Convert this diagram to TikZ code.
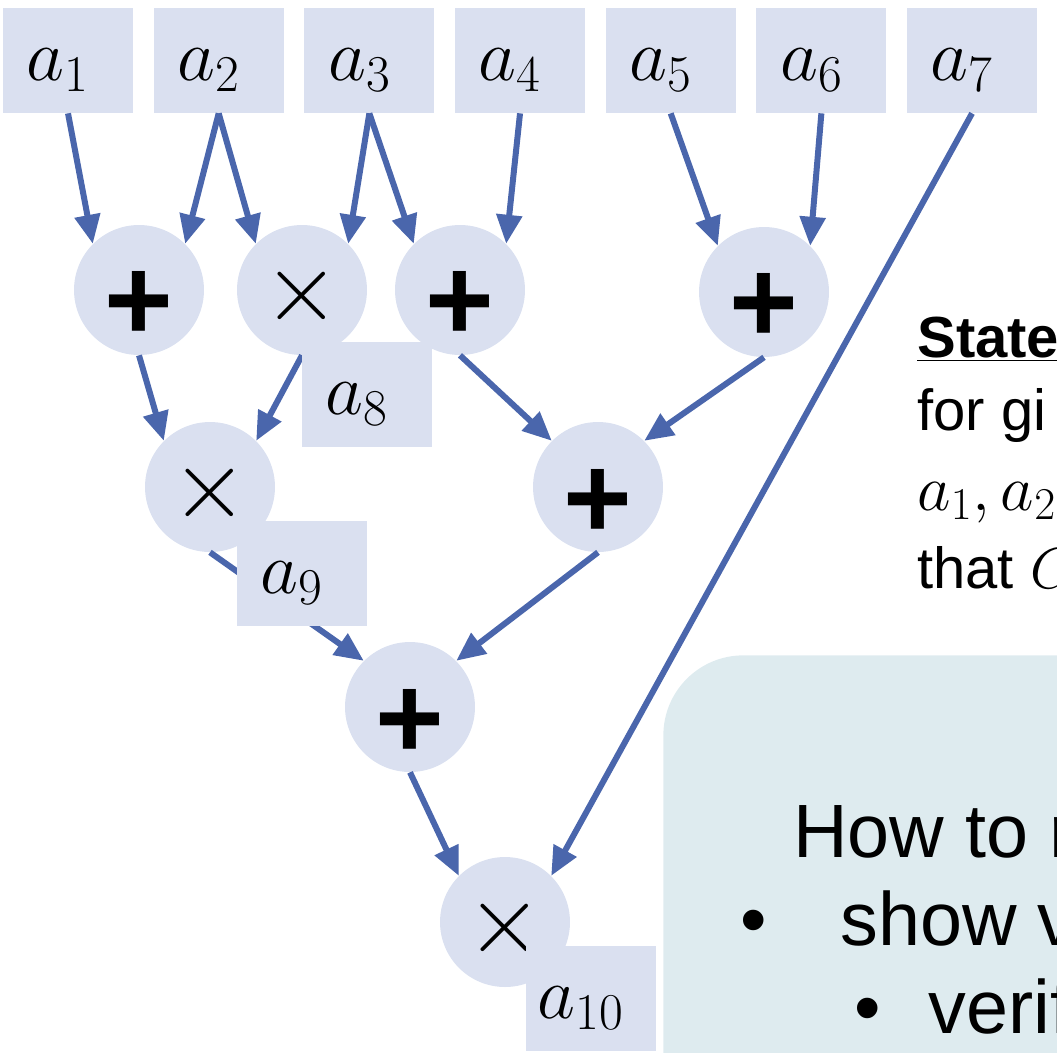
\RequirePackage{fix-cm}
\documentclass[tikz,border=0pt]{standalone}
\usepackage[no-math]{fontspec}
\setmainfont{Liberation Sans}
\usepackage{xcolor}
\usepackage{tikz}
\usetikzlibrary{positioning,arrows.meta}
\definecolor{wireblue}{HTML}{4A66AC}
\definecolor{nodetint}{HTML}{DAE0F0}
\definecolor{notetint}{HTML}{DEEBEF}
\newcommand{\avar}[1]{$a_{#1}$\kern0.4cm}
\newcommand{\opplus}{\raisebox{-1.02cm}[0pt][0pt]{\fontsize{67}{67}\selectfont\bfseries +}}
\newcommand{\optimes}{\raisebox{-0.6cm}[0pt][0pt]{\fontsize{56}{56}\selectfont$\times$}}

\begin{document}
\begin{tikzpicture}[
    x=0.02cm, y=-0.02cm,
    leaf/.style={
      fill=nodetint, minimum width=2.6cm, minimum height=2.1cm, inner sep=0pt,
      text height=0.8cm, text depth=0pt, font=\fontsize{42}{42}\selectfont
    },
    gate/.style={circle, fill=nodetint, minimum size=2.6cm, inner sep=0pt},
    wire/.style={-{Triangle[length=0.58cm, width=0.5cm]}, line width=0.12cm, wireblue},
    panel/.style={
      fill=notetint, rounded corners=1.6cm, minimum width=10cm, minimum height=10cm,
      anchor=north west, inner sep=0pt
    },
    say/.style={anchor=base west, inner sep=0pt, font=\fontsize{33}{33}\selectfont},
    pitch/.style={anchor=base west, inner sep=0pt, font=\fontsize{43}{43}\selectfont},
    bulletmark/.style={anchor=base, inner sep=0pt, font=\fontsize{43}{43}\selectfont}
  ]

  \useasboundingbox (0,0) rectangle (1057,1052);
  \clip (0,0) rectangle (1057,1052);

  \node[leaf] (a1) at (68,60.5) {\avar{1}};
  \node[leaf, right=0.4cm of a1] (a2) {\avar{2}};
  \node[leaf, right=0.4cm of a2] (a3) {\avar{3}};
  \node[leaf, right=0.4cm of a3] (a4) {\avar{4}};
  \node[leaf, right=0.4cm of a4] (a5) {\avar{5}};
  \node[leaf, right=0.4cm of a5] (a6) {\avar{6}};
  \node[leaf, right=0.4cm of a6] (a7) {\avar{7}};

  \node[gate] (add1) at (139,290) {\opplus};
  \node[gate] (mul1) at (302,290) {\optimes};
  \node[gate] (add2) at (460,290) {\opplus};
  \node[gate] (add3) at (764,292) {\opplus};
  \node[gate] (mul2) at (210,487) {\optimes};
  \node[gate] (add4) at (598,487) {\opplus};
  \node[gate] (add5) at (410,707) {\opplus};
  \node[gate] (mul3) at (505,922) {\optimes};

  \foreach \a/\b in {a1/add1.135, a2/add1.45, a2/mul1.135, a3/mul1.45,
                     a3/add2.135, a4/add2.45, a5/add3.135, a6/add3.45,
                     add1/mul2.135, mul1/mul2.45, add2/add4.135, add3/add4.45,
                     mul2/add5.135, add4/add5.45, add5/mul3.135, a7/mul3.45}
    {\draw[wire] (\a.south) -- (\b);}

  % the intermediate values sit on top of the wires
  \node[leaf] (a8) at (367,394.5) {\avar{8}};
  \node[leaf] (a9) at (302,573.5) {\avar{9}};
  \node[leaf] (a10) at (591,998.5) {\avar{10}};

  \node[say] (stmt) at (917,357) {\bfseries\underline{State}};
  \node[say] (given) at (917,430) {for gi};
  \node[say, font=\fontsize{37}{37}\selectfont] (vals) at (917,510) {$a_1,a_2$};
  \node[say] (that) at (917,588) {that $C$};

  \node[panel] (note) at (663,655) {};
  \node[pitch] (how) at (793,857) {How to r};
  \node[bulletmark] (b1) at (754,945) {•};
  \node[pitch] (show) at (840,945) {show v};
  \node[bulletmark] (b2) at (868,1033) {•};
  \node[pitch] (verify) at (928,1033) {verif};

\end{tikzpicture}
\end{document}
